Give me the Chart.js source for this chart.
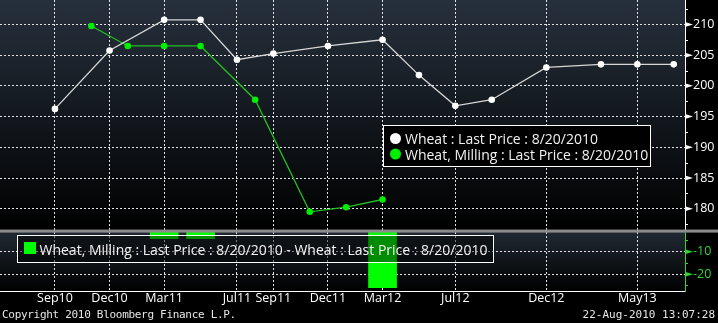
<!DOCTYPE html>
<html>
<head>
<meta charset="utf-8">
<title>Wheat vs Milling Wheat</title>
<script src="https://cdn.jsdelivr.net/npm/chart.js"></script>
<style>
  html, body { margin: 0; padding: 0; background: #000; }
  #wrap { position: relative; width: 718px; height: 323px; overflow: hidden; }
  canvas { display: block; }
  .foot { position: absolute; top: 308px; font: 11px "DejaVu Sans Mono", monospace; line-height: 13px; color: #e6e6e6; white-space: nowrap; }
</style>
</head>
<body>
<div id="wrap">
  <canvas id="chart" width="718" height="323"></canvas>
  <div class="foot" style="left:2px; letter-spacing:-0.3px">Copyright 2010 Bloomberg Finance L.P.</div>
  <div class="foot" style="right:3px">22-Aug-2010 13:07:28</div>
</div>

<script>
// contract months, counted from Sep10
const tickMonths = [0, 3, 6, 10, 12, 15, 18, 22, 27, 32];
const tickLabels = ['Sep10', 'Dec10', 'Mar11', 'Jul11', 'Sep11', 'Dec11', 'Mar12', 'Jul12', 'Dec12', 'May13'];

// Wheat curve
const wheatMonths = [0, 3, 6, 8, 10, 12, 15, 18, 20, 22, 24, 27, 30, 32, 34];
const wheatPrices = [196.25, 205.75, 210.75, 210.75, 204.25, 205.25, 206.5, 207.5, 201.75, 196.75, 197.75, 203, 203.5, 203.5, 203.5];

// Milling wheat curve
const millingMonths = [2, 4, 6, 8, 11, 14, 16, 18];
const millingPrices = [209.75, 206.5, 206.5, 206.5, 197.75, 179.5, 180.25, 181.5];

// Milling minus wheat where both have a contract
const spreadMonths = [6, 8, 18];
const spreadValues = [-4.25, -4.25, -26];

// right axis ticks
const priceTicks = [180, 185, 190, 195, 200, 205, 210];
const priceMinor = [177.5, 182.5, 187.5, 192.5, 197.5, 202.5, 207.5, 212.5];
const spreadTicks = [-20, -10];
const spreadMinor = [-25, -15, -5];

const spreadTop = -0.6;
const axisFont = { family: '"Open Sans", sans-serif', size: 12.5 };
const gridColor = '#e4e4e4';

// backgrounds, separator, axis marks and the two legend boxes
const panelDecor = {
    id: 'panelDecor',
    beforeDraw(chart) {
        const { ctx, chartArea: a, scales: { y, y2 } } = chart;
        ctx.save();
        ctx.fillStyle = '#000';
        ctx.fillRect(0, 0, chart.width, chart.height);
        [[y, '#26303c'], [y2, '#212a34']].forEach(([s, top]) => {
            const g = ctx.createLinearGradient(0, s.top, 0, s.bottom);
            g.addColorStop(0, top);
            g.addColorStop(1, '#000');
            ctx.fillStyle = g;
            ctx.fillRect(a.left, s.top, a.right - a.left, s.bottom - s.top);
        });
        ctx.restore();
    },
    afterDraw(chart) {
        const { ctx, scales: { y, y2 } } = chart;
        const sets = chart.data.datasets;
        ctx.save();

        // grey bar between the panels
        ctx.fillStyle = '#8c8c8c';
        ctx.fillRect(0, y.bottom - 1, chart.width, 3);

        // arrow ticks and minor ticks on the right axes
        [[y, priceTicks, priceMinor, '#ffffff'], [y2, spreadTicks, spreadMinor, '#2fd42f']].forEach(([s, major, minor, color]) => {
            ctx.fillStyle = color;
            ctx.strokeStyle = color;
            ctx.lineWidth = 1;
            major.forEach(v => {
                const py = s.getPixelForValue(v);
                ctx.beginPath();
                ctx.moveTo(s.left, py - 2.5);
                ctx.lineTo(s.left + 8, py);
                ctx.lineTo(s.left, py + 2.5);
                ctx.closePath();
                ctx.fill();
            });
            minor.forEach(v => {
                const py = Math.round(s.getPixelForValue(v)) + 0.5;
                ctx.beginPath();
                ctx.moveTo(s.left, py);
                ctx.lineTo(s.left + 3, py);
                ctx.stroke();
            });
        });

        ctx.font = '14px "Open Sans", sans-serif';
        ctx.textBaseline = 'alphabetic';
        ctx.lineWidth = 1;

        // price legend
        ctx.fillStyle = '#000';
        ctx.fillRect(383, 125, 268, 42);
        ctx.strokeStyle = '#fff';
        ctx.strokeRect(383.5, 125.5, 267, 41);
        [[sets[0], 138.5, 144], [sets[1], 154, 159.5]].forEach(([ds, cy, base]) => {
            ctx.fillStyle = ds.pointBackgroundColor;
            ctx.beginPath();
            ctx.arc(395.5, cy, 5.5, 0, Math.PI * 2);
            ctx.fill();
            ctx.fillStyle = '#f2f2f2';
            ctx.fillText(ds.label, 405, base);
        });

        // spread legend
        ctx.fillStyle = 'rgba(0,0,0,0.45)';
        ctx.fillRect(17, 235, 477, 28);
        ctx.strokeStyle = '#fff';
        ctx.strokeRect(17.5, 235.5, 476, 27);
        ctx.fillStyle = sets[2].backgroundColor;
        ctx.fillRect(24, 242, 12, 12);
        ctx.fillStyle = '#f2f2f2';
        ctx.fillText(sets[2].label, 39.5, 255);

        ctx.restore();
    }
};

new Chart(document.getElementById('chart'), {
    type: 'line',
    data: {
        datasets: [
            {
                label: 'Wheat : Last Price : 8/20/2010',
                data: wheatMonths.map((m, i) => ({ x: m, y: wheatPrices[i] })),
                yAxisID: 'y',
                borderColor: '#d6d6d6',
                borderWidth: 1.3,
                pointRadius: 3.3,
                pointBorderWidth: 0,
                pointBackgroundColor: '#ffffff',
                tension: 0
            },
            {
                label: 'Wheat, Milling : Last Price : 8/20/2010',
                data: millingMonths.map((m, i) => ({ x: m, y: millingPrices[i] })),
                yAxisID: 'y',
                borderColor: '#22bf22',
                borderWidth: 1.3,
                pointRadius: 3.3,
                pointBorderWidth: 0,
                pointBackgroundColor: '#00ee00',
                tension: 0
            },
            {
                type: 'bar',
                label: 'Wheat, Milling : Last Price : 8/20/2010 - Wheat : Last Price : 8/20/2010',
                data: spreadMonths.map((m, i) => ({ x: m, y: spreadValues[i] })),
                yAxisID: 'y2',
                backgroundColor: '#00ff00',
                borderWidth: 0,
                barThickness: 28,
                base: spreadTop
            }
        ]
    },
    options: {
        responsive: false,
        animation: false,
        layout: { autoPadding: false, padding: { left: 0, right: 0, top: 0, bottom: 17 } },
        plugins: { legend: { display: false }, tooltip: { enabled: false } },
        scales: {
            x: {
                type: 'linear',
                offset: false,
                min: -3.02,
                max: 34.62,
                afterBuildTicks: s => { s.ticks = tickMonths.map(v => ({ value: v })); },
                afterFit: s => { s.paddingLeft = 0; s.paddingRight = 0; },
                ticks: {
                    callback: v => tickLabels[tickMonths.indexOf(v)],
                    color: '#ffffff',
                    font: axisFont,
                    padding: 0,
                    maxRotation: 0,
                    autoSkip: false
                },
                grid: { color: gridColor, drawTicks: false, offset: false },
                border: { color: '#ffffff', width: 1, dash: [2, 2] }
            },
            y: {
                type: 'linear',
                position: 'right',
                stack: 'panels',
                stackWeight: 229,
                min: 176.44,
                max: 213.98,
                afterBuildTicks: s => { s.ticks = priceTicks.map(v => ({ value: v })); },
                afterFit: s => { s.width = 33; s.paddingTop = 0; s.paddingBottom = 0; },
                ticks: { color: '#ffffff', font: axisFont, padding: 8 },
                grid: { color: gridColor, drawTicks: false },
                border: { color: '#ffffff', width: 1, dash: [2, 2] }
            },
            y2: {
                type: 'linear',
                position: 'right',
                stack: 'panels',
                stackWeight: 60,
                min: -27.5,
                max: spreadTop,
                afterBuildTicks: s => { s.ticks = spreadTicks.map(v => ({ value: v })); },
                afterFit: s => { s.width = 33; s.paddingTop = 0; s.paddingBottom = 0; },
                ticks: { color: '#2fd42f', font: axisFont, padding: 8 },
                grid: { color: gridColor, drawTicks: false },
                border: { color: '#2fd42f', width: 1, dash: [2, 2] }
            }
        }
    },
    plugins: [panelDecor]
});
</script>
</body>
</html>
